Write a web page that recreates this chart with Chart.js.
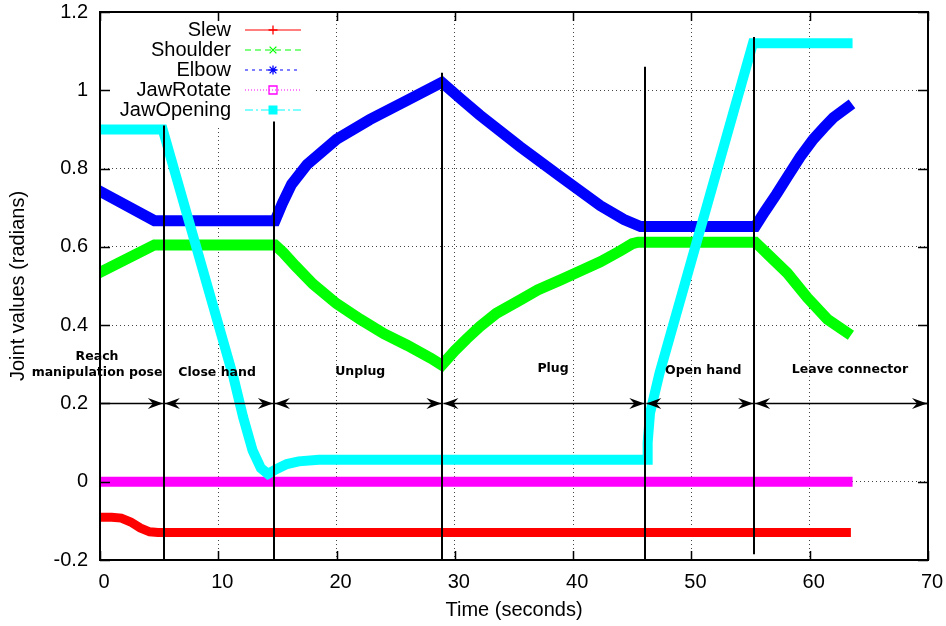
<!DOCTYPE html>
<html lang="en">
<head>
<meta charset="UTF-8">
<title>Joint values over time</title>
<script src="https://cdn.jsdelivr.net/npm/chart.js@4.4.1/dist/chart.umd.min.js"></script>
<style>
  html, body { margin: 0; padding: 0; background: #fff; }
</style>
</head>
<body>
<canvas id="chart" width="946" height="626"></canvas>
<script>
// ---- data ----
const xTicks = [0, 10, 20, 30, 40, 50, 60, 70];
const yTicks = [-0.2, 0, 0.2, 0.4, 0.6, 0.8, 1, 1.2];
const yTickLabels = ['-0.2', '0', '0.2', '0.4', '0.6', '0.8', '1', '1.2'];

const seriesNames = ['Slew', 'Shoulder', 'Elbow', 'JawRotate', 'JawOpening'];
const seriesColors = ['#ff0000', '#00ff00', '#0000ff', '#ff00ff', '#00ffff'];

// [time (s), value (rad)]
const slew = [[0, -0.091], [1.0, -0.091], [1.8, -0.093], [2.6, -0.103], [3.4, -0.118], [4.2, -0.128], [4.9, -0.13], [63.1, -0.13]];
const shoulder = [[0, 0.535], [4.6, 0.605], [14.8, 0.605], [15.5, 0.585], [16.5, 0.552], [18, 0.505], [20, 0.455],
  [22, 0.415], [24, 0.378], [26, 0.348], [28, 0.315], [28.9, 0.298], [30, 0.335], [31, 0.365], [32.1, 0.396],
  [33.5, 0.43], [35.5, 0.464], [37, 0.49], [38.9, 0.515], [40.5, 0.537], [42.3, 0.562], [44, 0.59], [45, 0.608],
  [45.5, 0.612], [55.4, 0.612], [56.5, 0.58], [58.1, 0.533], [59.8, 0.47], [61.5, 0.415], [63.1, 0.382]];
const elbow = [[0, 0.742], [4.6, 0.667], [14.8, 0.667], [15.4, 0.71], [16.2, 0.76], [17.5, 0.81], [20, 0.875],
  [22.8, 0.925], [26, 0.975], [28.9, 1.02], [30.5, 0.978], [32.1, 0.937], [35.5, 0.856], [38.9, 0.78],
  [42.3, 0.705], [44.3, 0.67], [45.7, 0.652], [55.4, 0.652], [56.2, 0.69], [57.2, 0.735], [58.1, 0.778],
  [59.2, 0.83], [60.3, 0.875], [61.2, 0.905], [62, 0.93], [63.2, 0.957]];
const jawRotate = [[0, 0], [63.2, 0]];
const jawOpening = [[0, 0.9], [5.3, 0.9], [11.3, 0.265], [12.1, 0.165], [12.9, 0.08], [13.6, 0.035], [14.2, 0.02],
  [14.9, 0.032], [15.8, 0.045], [16.8, 0.052], [18.5, 0.056], [46.3, 0.056], [46.3, 0.1], [46.5, 0.175],
  [47.3, 0.277], [55.2, 1.12], [63.2, 1.12]];

// phase boundaries, arrows and captions
const phaseBounds = [5.4, 14.7, 28.95, 46.1, 55.3];
const phaseTops = [0.91, 0.92, 1.045, 1.06, 1.136];
const phaseBottoms = [-0.2, -0.2, -0.2, -0.2, -0.185];
const arrowStarts = [0, 5.4, 14.7, 28.95, 46.1, 55.3];
const arrowEnds = [5.4, 14.7, 28.95, 46.1, 55.3, 70];
const arrowBoth = [false, true, true, true, true, true];
const arrowLevel = 0.2;
const phaseLabels = [['Reach', 'manipulation pose'], ['Close hand'], ['Unplug'], ['Plug'], ['Open hand'], ['Leave connector']];
const labelX = [-0.25, 9.9, 22.0, 38.3, 51.0, 63.4];
const labelY = [0.278, 0.278, 0.28, 0.289, 0.284, 0.286];

const seriesData = [slew, shoulder, elbow, jawRotate, jawOpening];
const seriesWidths = [9, 11, 11, 10, 10];
const seriesDash = [[], [6, 4], [3, 4], [1, 2], [8, 3, 2, 3]];
const seriesMarkers = ['plus', 'cross', 'star', 'openSquare', 'square'];

// ---- helpers ----
function drawMarker(ctx, kind, cx, cy, r, color) {
  ctx.save();
  ctx.strokeStyle = color;
  ctx.fillStyle = color;
  ctx.lineWidth = 1.3;
  ctx.setLineDash([]);
  ctx.beginPath();
  if (kind === 'plus' || kind === 'star') {
    ctx.moveTo(cx - r, cy); ctx.lineTo(cx + r, cy);
    ctx.moveTo(cx, cy - r); ctx.lineTo(cx, cy + r);
  }
  if (kind === 'cross' || kind === 'star') {
    const d = r * 0.75;
    ctx.moveTo(cx - d, cy - d); ctx.lineTo(cx + d, cy + d);
    ctx.moveTo(cx - d, cy + d); ctx.lineTo(cx + d, cy - d);
  }
  if (kind === 'openSquare') ctx.rect(cx - r + 0.5, cy - r + 0.5, 2 * r - 1, 2 * r - 1);
  ctx.stroke();
  if (kind === 'square') ctx.fillRect(cx - r, cy - r, 2 * r, 2 * r);
  ctx.restore();
}

function arrowHead(ctx, tx, ty, dir) {
  const len = 15, half = 5.5, notch = 10;
  ctx.beginPath();
  ctx.moveTo(tx, ty);
  ctx.lineTo(tx - dir * len, ty - half);
  ctx.lineTo(tx - dir * notch, ty);
  ctx.lineTo(tx - dir * len, ty + half);
  ctx.closePath();
  ctx.fill();
}

// key box in the top-left corner, gnuplot style
const keyPlugin = {
  id: 'key',
  beforeDatasetsDraw(chart) {
    const { ctx, chartArea } = chart;
    ctx.save();
    ctx.fillStyle = '#fff';
    ctx.fillRect(chartArea.left + 1, chartArea.top + 1, 212, 112);
    ctx.font = '20px "Liberation Sans", Arial, sans-serif';
    ctx.textAlign = 'right';
    ctx.textBaseline = 'middle';
    seriesNames.forEach((name, i) => {
      const yy = 29.5 + i * 20;
      ctx.fillStyle = '#000';
      ctx.fillText(name, 231, yy + 1);
      ctx.strokeStyle = seriesColors[i];
      ctx.lineWidth = 1.2;
      ctx.setLineDash(seriesDash[i]);
      ctx.beginPath();
      ctx.moveTo(245, yy + 0.5);
      ctx.lineTo(301, yy + 0.5);
      ctx.stroke();
      drawMarker(ctx, seriesMarkers[i], 273, yy + 0.5, 4.5, seriesColors[i]);
    });
    ctx.restore();
  }
};

// phase boundaries, arrows and captions drawn on top of the curves
const phasePlugin = {
  id: 'phases',
  afterDatasetsDraw(chart) {
    const { ctx, scales: { x, y } } = chart;
    ctx.save();
    ctx.strokeStyle = '#000';
    ctx.fillStyle = '#000';
    ctx.lineWidth = 2;
    phaseBounds.forEach((b, i) => {
      const px = Math.round(x.getPixelForValue(b));
      ctx.beginPath();
      ctx.moveTo(px, y.getPixelForValue(phaseTops[i]));
      ctx.lineTo(px, y.getPixelForValue(phaseBottoms[i]));
      ctx.stroke();
    });

    const ay = Math.round(y.getPixelForValue(arrowLevel)) + 0.5;
    ctx.lineWidth = 1.6;
    arrowStarts.forEach((s, i) => {
      const x0 = x.getPixelForValue(s) + 1;
      const x1 = x.getPixelForValue(arrowEnds[i]) - 1;
      ctx.beginPath();
      ctx.moveTo(x0, ay);
      ctx.lineTo(x1, ay);
      ctx.stroke();
      arrowHead(ctx, x1, ay, 1);
      if (arrowBoth[i]) arrowHead(ctx, x0, ay, -1);
    });

    ctx.font = 'bold 12.5px "DejaVu Sans", sans-serif';
    ctx.textAlign = 'center';
    ctx.textBaseline = 'middle';
    phaseLabels.forEach((lines, i) => {
      const cx = x.getPixelForValue(labelX[i]);
      const cy = y.getPixelForValue(labelY[i]);
      lines.forEach((t, j) => {
        ctx.fillText(t, cx, cy - (lines.length - 1 - j) * 16);
      });
    });
    ctx.restore();
  }
};

// solid frame with inward ticks on all four sides
const framePlugin = {
  id: 'frame',
  afterDraw(chart) {
    const { ctx, chartArea: a, scales: { x, y } } = chart;
    ctx.save();
    ctx.strokeStyle = '#000';
    ctx.lineWidth = 1.5;
    xTicks.forEach(v => {
      const px = Math.round(x.getPixelForValue(v)) + 0.5;
      ctx.beginPath();
      ctx.moveTo(px, a.bottom); ctx.lineTo(px, a.bottom - 9);
      ctx.moveTo(px, a.top); ctx.lineTo(px, a.top + 9);
      ctx.stroke();
    });
    yTicks.forEach(v => {
      const py = Math.round(y.getPixelForValue(v)) + 0.5;
      ctx.beginPath();
      ctx.moveTo(a.left, py); ctx.lineTo(a.left + 10, py);
      ctx.moveTo(a.right, py); ctx.lineTo(a.right - 10, py);
      ctx.stroke();
    });
    ctx.lineWidth = 2;
    ctx.strokeRect(a.left, a.top, a.right - a.left, a.bottom - a.top);
    ctx.restore();
  }
};

const axisFont = { family: '"Liberation Sans", Arial, sans-serif', size: 20 };

const datasets = seriesNames.map((name, i) => ({
  label: name,
  data: seriesData[i].map(p => ({ x: p[0], y: p[1] })),
  showLine: true,
  borderColor: seriesColors[i],
  backgroundColor: seriesColors[i],
  borderWidth: seriesWidths[i],
  borderCapStyle: 'square',
  borderJoinStyle: 'miter',
  pointRadius: 0,
  fill: false,
  order: seriesNames.length - i
}));

new Chart(document.getElementById('chart'), {
  type: 'scatter',
  data: { datasets },
  options: {
    responsive: false,
    animation: false,
    devicePixelRatio: 1,
    layout: { padding: { top: 12, right: 18, bottom: 0, left: 0 } },
    plugins: { legend: { display: false }, tooltip: { enabled: false } },
    scales: {
      x: {
        type: 'linear',
        min: 0, max: 70,
        afterBuildTicks: s => { s.ticks = xTicks.map(v => ({ value: v })); },
        afterFit: s => { s.height = 66; s.paddingLeft = 0; s.paddingRight = 0; },
        grid: { color: '#444', lineWidth: 1, drawTicks: false },
        border: { display: false, dash: [1, 3] },
        ticks: { color: '#000', font: axisFont, padding: 10, labelOffset: 4, autoSkip: false, maxRotation: 0, callback: v => String(v) },
        title: { display: true, text: 'Time (seconds)', color: '#000', font: axisFont, padding: { top: 4, bottom: 4 } }
      },
      y: {
        type: 'linear',
        min: -0.2, max: 1.2,
        afterBuildTicks: s => { s.ticks = yTicks.map(v => ({ value: v })); },
        afterFit: s => { s.width = 100; s.paddingTop = 0; s.paddingBottom = 0; },
        grid: { color: '#444', lineWidth: 1, drawTicks: false },
        border: { display: false, dash: [1, 3] },
        ticks: { color: '#000', font: axisFont, padding: 12, autoSkip: false, callback: (v, i) => yTickLabels[i] },
        title: { display: true, text: 'Joint values (radians)', color: '#000', font: axisFont, padding: { top: 6, bottom: 4 } }
      }
    }
  },
  plugins: [keyPlugin, phasePlugin, framePlugin]
});
</script>
</body>
</html>
